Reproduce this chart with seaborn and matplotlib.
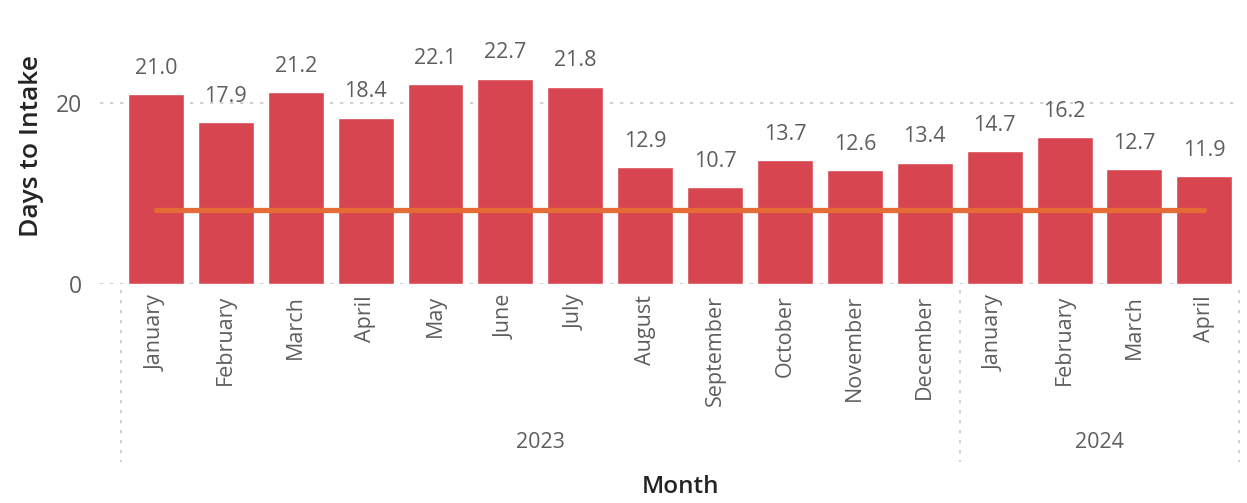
import numpy as np
import pandas as pd
import matplotlib
matplotlib.use('Agg')
import matplotlib.pyplot as plt
import matplotlib.transforms as mtransforms
import seaborn as sns

# Chart data
months = ['January', 'February', 'March', 'April', 'May', 'June', 'July', 'August',
          'September', 'October', 'November', 'December',
          'January', 'February', 'March', 'April']
years = ['2023'] * 12 + ['2024'] * 4
days_to_intake = [21.0, 17.9, 21.2, 18.4, 22.1, 22.7, 21.8, 12.9,
                  10.7, 13.7, 12.6, 13.4, 14.7, 16.2, 12.7, 11.9]
target_days = 8.2

data = pd.DataFrame({'month': months, 'year': years, 'days': days_to_intake})
data['key'] = data['month'] + ' ' + data['year']

sns.set_style('white')
plt.rcParams['font.family'] = ['Open Sans', 'DejaVu Sans']

fig = plt.figure(figsize=(12.47, 5.03), dpi=100)
ax = fig.add_axes([100 / 1247, 1 - 284 / 503, 1140 / 1247, 244.3 / 503])

sns.barplot(data=data, x='key', y='days', order=list(data['key']), color='#D64550',
            saturation=1, width=0.8, ax=ax)

# target line
ax.plot([0, len(data) - 1], [target_days, target_days], color='#E66C37', lw=3.8,
        solid_capstyle='round', zorder=3)

ax.bar_label(ax.containers[0], fmt='%.1f', padding=11, fontsize=15.5, color='#605E5C')

ax.set_xlim(-0.8, 15.51)
ax.set_ylim(0, 27)
ax.set_yticks([0, 20])
ax.grid(axis='y', color='#C8C8C8', linestyle=(0, (2, 4)), lw=1.2)
ax.set_axisbelow(True)
for s in ax.spines.values():
    s.set_visible(False)

ax.set_xticks(range(len(data)))
ax.set_xticklabels(data['month'], rotation=90, fontsize=15.5, color='#605E5C')
ax.tick_params(axis='x', length=0, pad=8)
ax.tick_params(axis='y', length=0, pad=13, labelsize=16.5, labelcolor='#605E5C')
ax.set_xlabel('')
ax.set_ylabel('Days to Intake', fontsize=19, fontweight='semibold', color='#252423')
ax.yaxis.set_label_coords(-0.049, 0.565)

# year groups
trans = mtransforms.blended_transform_factory(ax.transData, ax.transAxes)
for xs in [-0.5, 11.5, 15.5]:
    ax.plot([xs, xs], [-0.025, -0.73], transform=trans, clip_on=False,
            color='#C8C8C8', linestyle=(0, (2, 4)), lw=1.2)
for yr, xc in [('2023', 5.5), ('2024', 13.5)]:
    ax.text(xc, -0.647, yr, transform=trans, ha='center', va='center',
            fontsize=15.5, color='#605E5C')

fig.text(680 / 1247, 1 - 487 / 503, 'Month', ha='center', va='center',
         fontsize=17.5, fontweight='semibold', color='#252423')

fig.savefig('out.png', dpi=100)
